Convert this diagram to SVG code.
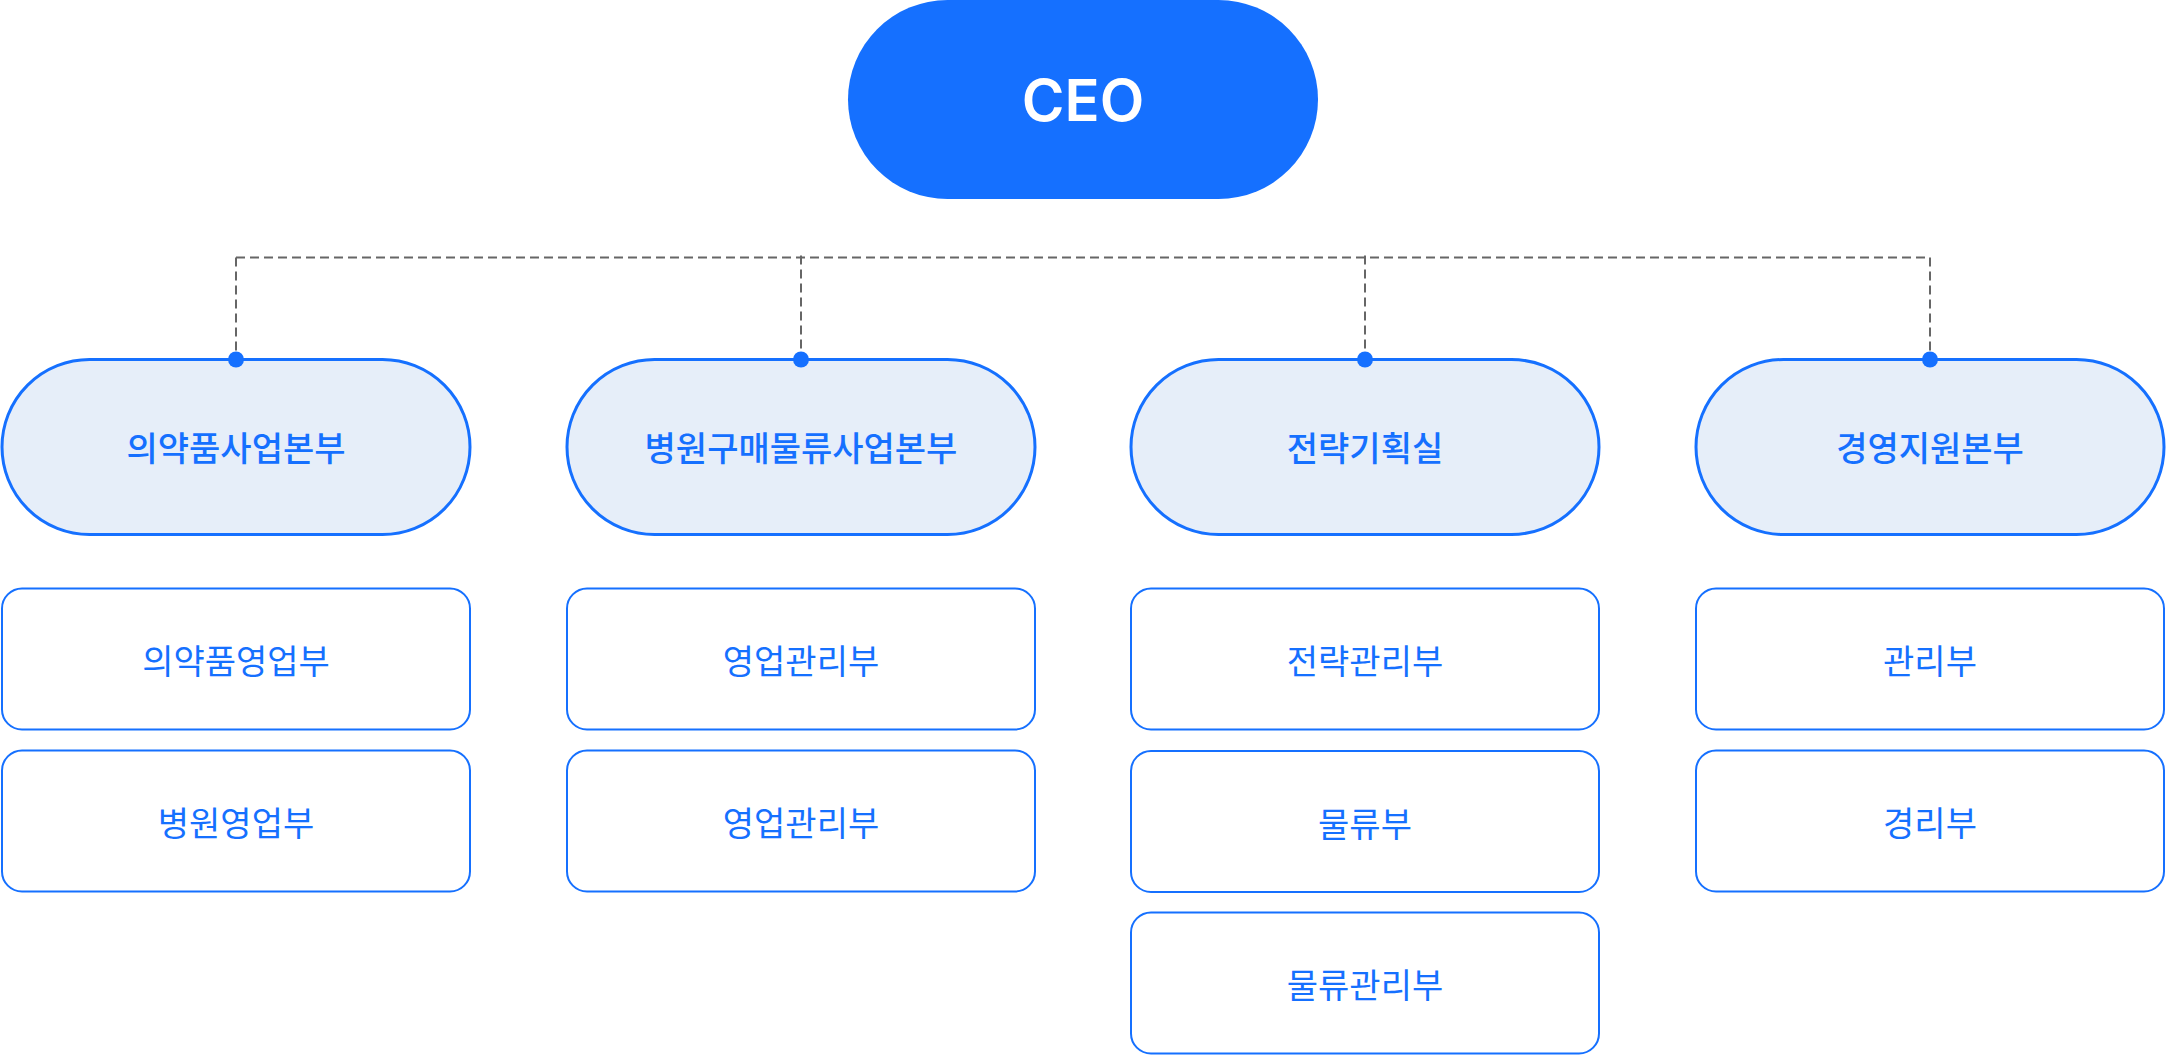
<svg xmlns="http://www.w3.org/2000/svg" width="2166" height="1055" viewBox="0 0 2166 1055">
  <style>
    .ceo { fill: #1570FF; }
    .ceo-t { fill: #FFFFFF; font-family: Inter, "Noto Sans", "Liberation Sans", sans-serif; font-weight: 600; font-size: 58px; text-anchor: middle; }
    .div { fill: #E6EEF9; stroke: #1570FF; stroke-width: 3; }
    .div-t { fill: #1570FF; font-family: "Noto Sans CJK KR", "Noto Sans", sans-serif; font-weight: 500; font-size: 34px; text-anchor: middle; }
    .dept { fill: #FFFFFF; stroke: #1570FF; stroke-width: 2; }
    .dept-t { fill: #1570FF; font-family: "Noto Sans CJK KR", "Noto Sans", sans-serif; font-weight: 400; font-size: 34px; text-anchor: middle; }
    .conn { fill: none; stroke: #666666; stroke-width: 2; stroke-dasharray: 9 5; }
    .dot { fill: #1570FF; }
  </style>

  <g id="connectors">
    <path class="conn" d="M236 257.5 H1930"/>
    <path class="conn" d="M236 257.5 V359"/>
    <path class="conn" d="M801 255.5 V359"/>
    <path class="conn" d="M1365 255.5 V359"/>
    <path class="conn" d="M1930 257.5 V359"/>
  </g>

  <g id="ceo">
    <rect class="ceo" x="848" y="0" width="470" height="199" rx="99.5"/>
    <text class="ceo-t" x="1083" y="121">CEO</text>
  </g>

  <g id="div-pharma">
    <rect class="div" x="2" y="359.5" width="468" height="175" rx="87.5"/>
    <text class="div-t" x="236" y="461">의약품사업본부</text>
  </g>
  <g id="div-hospital">
    <rect class="div" x="567" y="359.5" width="468" height="175" rx="87.5"/>
    <text class="div-t" x="801" y="461">병원구매물류사업본부</text>
  </g>
  <g id="div-strategy">
    <rect class="div" x="1131" y="359.5" width="468" height="175" rx="87.5"/>
    <text class="div-t" x="1365" y="461">전략기획실</text>
  </g>
  <g id="div-management">
    <rect class="div" x="1696" y="359.5" width="468" height="175" rx="87.5"/>
    <text class="div-t" x="1930" y="461">경영지원본부</text>
  </g>

  <g id="dots">
    <circle class="dot" cx="236" cy="359.5" r="8"/>
    <circle class="dot" cx="801" cy="359.5" r="8"/>
    <circle class="dot" cx="1365" cy="359.5" r="8"/>
    <circle class="dot" cx="1930" cy="359.5" r="8"/>
  </g>

  <g id="dept-pharma-sales">
    <rect class="dept" x="2" y="588.5" width="468" height="141" rx="20"/>
    <text class="dept-t" x="236" y="674">의약품영업부</text>
  </g>
  <g id="dept-hospital-sales">
    <rect class="dept" x="2" y="750.5" width="468" height="141" rx="20"/>
    <text class="dept-t" x="236" y="836">병원영업부</text>
  </g>

  <g id="dept-sales-mgmt-1">
    <rect class="dept" x="567" y="588.5" width="468" height="141" rx="20"/>
    <text class="dept-t" x="801" y="674">영업관리부</text>
  </g>
  <g id="dept-sales-mgmt-2">
    <rect class="dept" x="567" y="750.5" width="468" height="141" rx="20"/>
    <text class="dept-t" x="801" y="836">영업관리부</text>
  </g>

  <g id="dept-strategy-mgmt">
    <rect class="dept" x="1131" y="588.5" width="468" height="141" rx="20"/>
    <text class="dept-t" x="1365" y="674">전략관리부</text>
  </g>
  <g id="dept-logistics">
    <rect class="dept" x="1131" y="751" width="468" height="141" rx="20"/>
    <text class="dept-t" x="1365" y="836.5">물류부</text>
  </g>
  <g id="dept-logistics-mgmt">
    <rect class="dept" x="1131" y="912.5" width="468" height="141" rx="20"/>
    <text class="dept-t" x="1365" y="998">물류관리부</text>
  </g>

  <g id="dept-admin">
    <rect class="dept" x="1696" y="588.5" width="468" height="141" rx="20"/>
    <text class="dept-t" x="1930" y="674">관리부</text>
  </g>
  <g id="dept-accounting">
    <rect class="dept" x="1696" y="750.5" width="468" height="141" rx="20"/>
    <text class="dept-t" x="1930" y="836">경리부</text>
  </g>
</svg>
